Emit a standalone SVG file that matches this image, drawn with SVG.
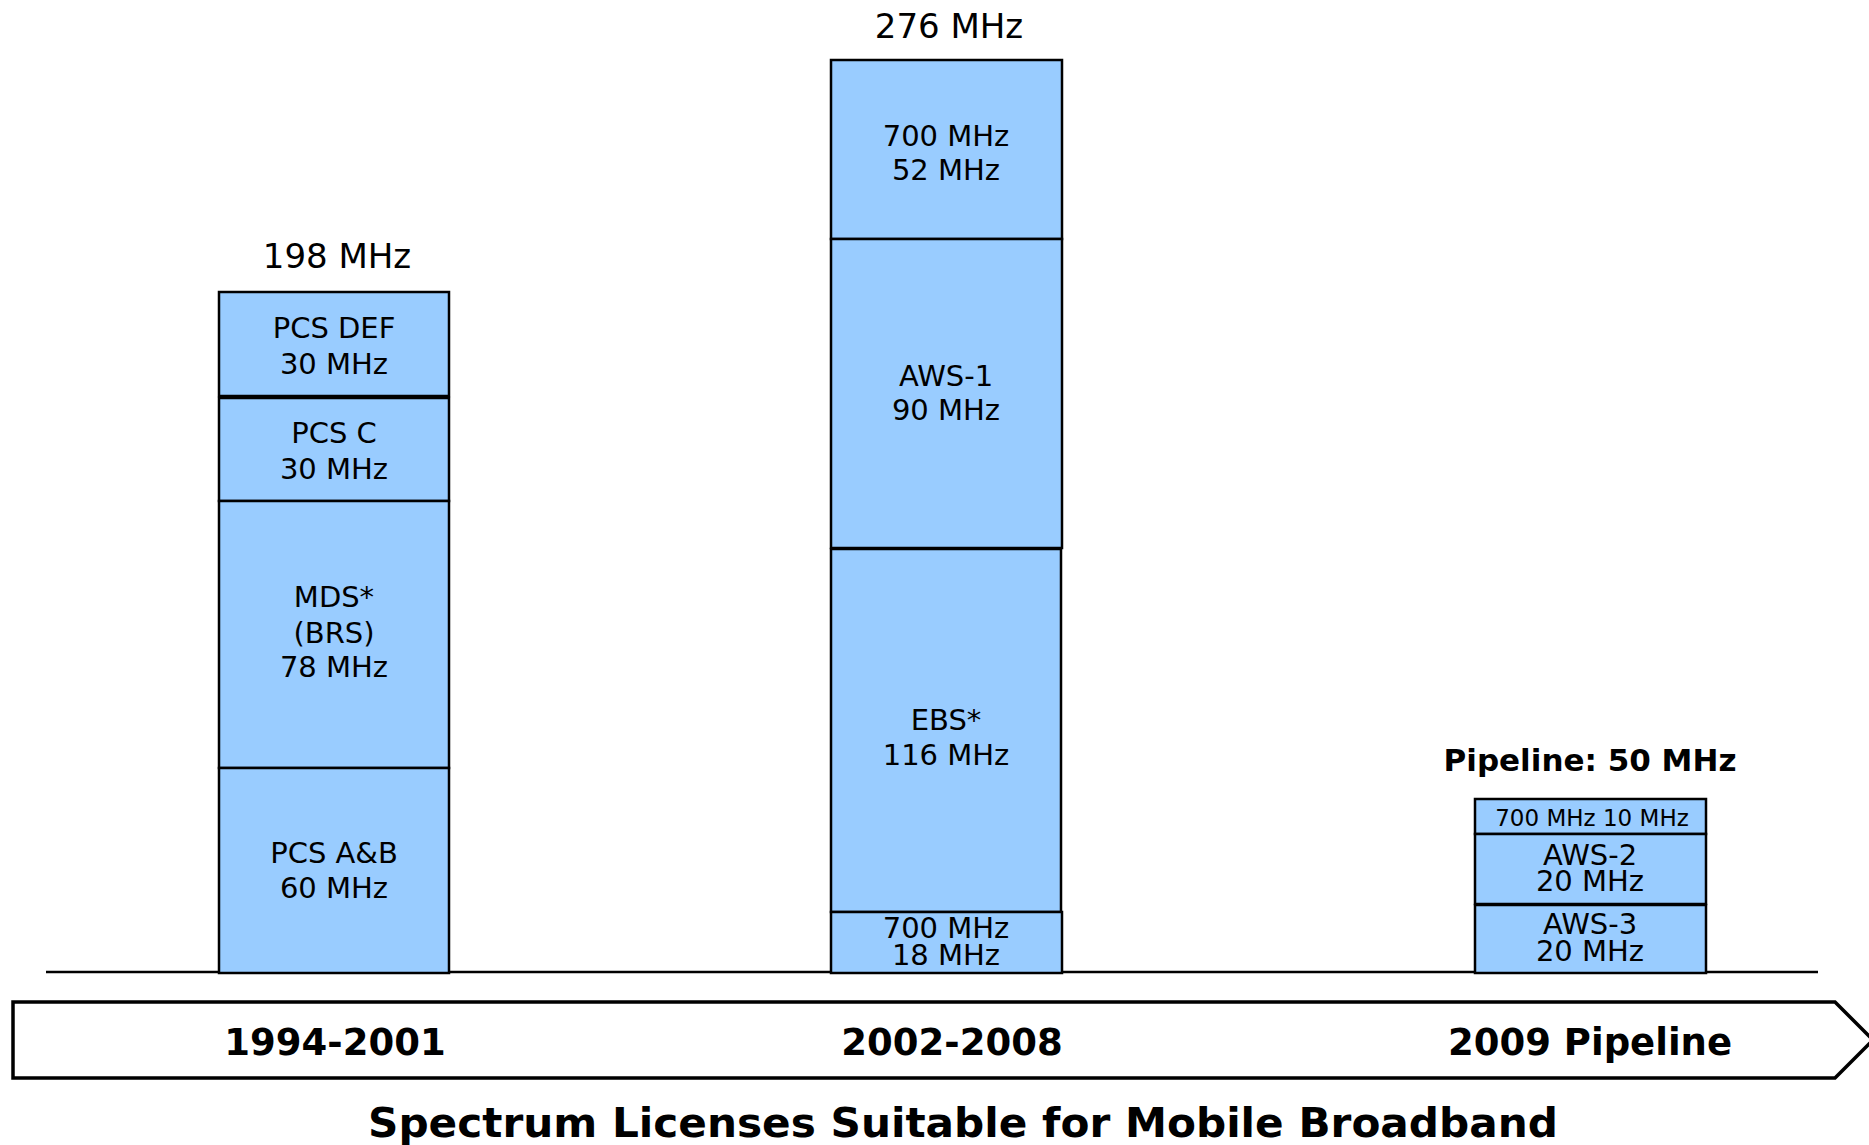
<svg xmlns="http://www.w3.org/2000/svg" width="1869" height="1145" viewBox="0 0 1869 1145">
<style>
.seg{fill:#99CCFF;stroke:#000;stroke-width:2.5}
.t{font-family:"DejaVu Sans","Liberation Sans",sans-serif;font-size:29px;fill:#000;text-anchor:middle}
.top{font-family:"DejaVu Sans","Liberation Sans",sans-serif;font-size:34px;fill:#000;text-anchor:middle}
.b{font-family:"DejaVu Sans","Liberation Sans",sans-serif;font-weight:bold;fill:#000;text-anchor:middle}
</style>
<rect width="1869" height="1145" fill="#fff"/>
<g id="axis">
<line x1="46" y1="972" x2="1818" y2="972" stroke="#000" stroke-width="2.5"/>
</g>
<g id="col1">
<text class="top" x="337" y="268">198 MHz</text>
<g id="pcs-def"><rect class="seg" x="219" y="292" width="230" height="104"/><text class="t" x="334" y="338">PCS DEF</text><text class="t" x="334" y="374">30 MHz</text></g>
<g id="pcs-c"><rect class="seg" x="219" y="398" width="230" height="103"/><text class="t" x="334" y="443">PCS C</text><text class="t" x="334" y="479">30 MHz</text></g>
<g id="mds"><rect class="seg" x="219" y="501" width="230" height="267"/><text class="t" x="334" y="607">MDS*</text><text class="t" x="334" y="643">(BRS)</text><text class="t" x="334" y="677">78 MHz</text></g>
<g id="pcs-ab"><rect class="seg" x="219" y="768" width="230" height="205"/><text class="t" x="334" y="863">PCS A&amp;B</text><text class="t" x="334" y="898">60 MHz</text></g>
</g>
<g id="col2">
<text class="top" x="949" y="38">276 MHz</text>
<g id="m700-52"><rect class="seg" x="831" y="60" width="231" height="179"/><text class="t" x="946" y="146">700 MHz</text><text class="t" x="946" y="180">52 MHz</text></g>
<g id="aws1"><rect class="seg" x="831" y="239" width="231" height="309"/><text class="t" x="946" y="386">AWS-1</text><text class="t" x="946" y="420">90 MHz</text></g>
<g id="ebs"><rect class="seg" x="831" y="549" width="230" height="363"/><text class="t" x="946" y="730">EBS*</text><text class="t" x="946" y="765">116 MHz</text></g>
<g id="m700-18"><rect class="seg" x="831" y="912" width="231" height="61"/><text class="t" x="946" y="938">700 MHz</text><text class="t" x="946" y="965">18 MHz</text></g>
</g>
<g id="col3">
<text class="b" x="1590" y="771" font-size="31">Pipeline: 50 MHz</text>
<g id="m700-10"><rect class="seg" x="1475" y="799" width="231" height="35"/><text class="t" x="1592" y="826" style="font-size:23px">700 MHz 10 MHz</text></g>
<g id="aws2"><rect class="seg" x="1475" y="834" width="231" height="70"/><text class="t" x="1590" y="865">AWS-2</text><text class="t" x="1590" y="891">20 MHz</text></g>
<g id="aws3"><rect class="seg" x="1475" y="905" width="231" height="68"/><text class="t" x="1590" y="934">AWS-3</text><text class="t" x="1590" y="961">20 MHz</text></g>
</g>
<g id="timeline">
<path d="M13 1002 L1835 1002 L1873 1040 L1835 1078 L13 1078 Z" fill="#fff" stroke="#000" stroke-width="3.5"/>
<text class="b" x="335" y="1055" font-size="37">1994-2001</text>
<text class="b" x="952" y="1055" font-size="37">2002-2008</text>
<text class="b" x="1590" y="1055" font-size="37">2009 Pipeline</text>
</g>
<text id="title" class="b" x="963" y="1137" font-size="40" textLength="1190" lengthAdjust="spacingAndGlyphs">Spectrum Licenses Suitable for Mobile Broadband</text>
</svg>
